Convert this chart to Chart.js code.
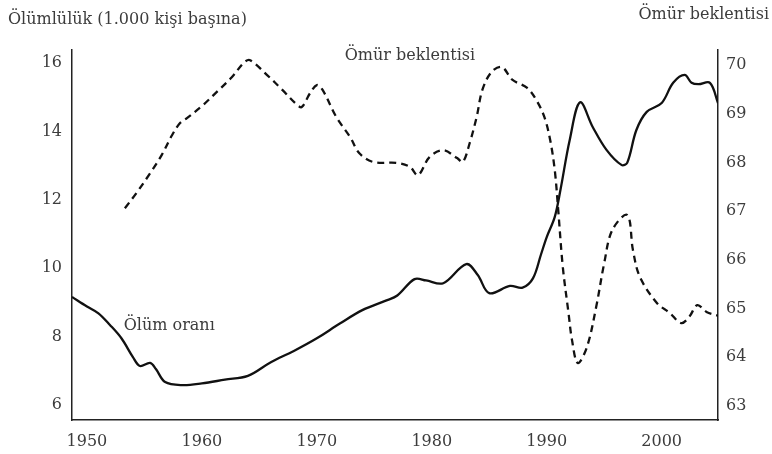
<!DOCTYPE html>
<html>
<head>
<meta charset="utf-8">
<script src="https://cdn.jsdelivr.net/npm/chart.js@4"></script>
<style>
  html, body { margin: 0; padding: 0; background: #fff; }
  #wrap { width: 772px; height: 454px; position: relative; }
</style>
</head>
<body>
<div id="wrap"><canvas id="chart" width="772" height="454"></canvas></div>
<script>
// Ölüm oranı (1.000 kişi başına) – sol eksen
const deathYears = [1948.7, 1950, 1951, 1952, 1953, 1954, 1954.6, 1955.5, 1956, 1956.8, 1958.3, 1960, 1962, 1964, 1966, 1968, 1970, 1972, 1974, 1976, 1977, 1978.5, 1979.5, 1981, 1983, 1984, 1985, 1986.8, 1987.9, 1988.8, 1989.5, 1990, 1990.7, 1991.2, 1992, 1992.9, 1994, 1995.2, 1996.5, 1997, 1997.8, 1998.7, 2000, 2001, 2002, 2002.6, 2003.2, 2004.2, 2004.9];
const deathRate  = [9.16, 8.88, 8.68, 8.34, 7.95, 7.40, 7.14, 7.23, 7.05, 6.67, 6.58, 6.63, 6.74, 6.85, 7.25, 7.58, 7.95, 8.38, 8.78, 9.05, 9.20, 9.68, 9.64, 9.56, 10.12, 9.80, 9.27, 9.48, 9.43, 9.70, 10.40, 10.91, 11.50, 12.30, 13.75, 14.85, 14.13, 13.46, 13.02, 13.08, 14.04, 14.57, 14.83, 15.42, 15.65, 15.42, 15.38, 15.42, 14.83];

// Ömür beklentisi – sağ eksen
const lifeYears = [1953.3, 1954.3, 1955.5, 1956.5, 1957.4, 1958.1, 1958.7, 1960.1, 1961.3, 1962.6, 1963.7, 1964.2, 1965.7, 1967.0, 1968.3, 1968.7, 1969.4, 1970.0, 1970.5, 1971.7, 1972.9, 1973.7, 1974.9, 1977.0, 1978.1, 1978.8, 1979.8, 1981.0, 1982.2, 1982.7, 1983.3, 1983.9, 1984.4, 1985.2, 1986.1, 1987.0, 1988.3, 1989.1, 1989.8, 1990.3, 1990.7, 1991.0, 1991.4, 1991.9, 1992.2, 1992.7, 1993.5, 1994.3, 1995.0, 1995.7, 1997.0, 1997.5, 1998.1, 1999.6, 2000.7, 2001.7, 2002.4, 2003.1, 2003.9, 2004.9];
const lifeExp   = [67.06, 67.37, 67.78, 68.15, 68.56, 68.81, 68.91, 69.18, 69.45, 69.75, 70.06, 70.10, 69.79, 69.49, 69.18, 69.14, 69.42, 69.59, 69.49, 68.93, 68.52, 68.19, 68.01, 67.99, 67.91, 67.74, 68.11, 68.25, 68.09, 68.01, 68.40, 68.93, 69.49, 69.86, 69.96, 69.70, 69.53, 69.28, 68.93, 68.46, 67.84, 67.02, 65.85, 64.90, 64.35, 63.88, 64.21, 65.03, 65.93, 66.61, 66.92, 66.20, 65.65, 65.11, 64.91, 64.70, 64.83, 65.07, 64.93, 64.85];

const xTicks     = [1950, 1960, 1970, 1980, 1990, 2000];
const leftTicks  = [6, 8, 10, 12, 14, 16];
const rightTicks = [63, 64, 65, 66, 67, 68, 69, 70];

const FONT = 'DejaVu Serif';
const TXT  = '#3c3c3c';

const toPts = (xs, ys) => xs.map((x, i) => ({ x, y: ys[i] }));

// metin etiketleri
const labels = {
  id: 'labels',
  afterDraw(chart) {
    const { ctx, scales } = chart;
    ctx.save();
    ctx.fillStyle = TXT;
    ctx.font = `16px "${FONT}"`;
    ctx.textBaseline = 'middle';
    ctx.textAlign = 'left';
    ctx.fillText('Ölümlülük (1.000 kişi başına)', 8, 20);
    ctx.textAlign = 'right';
    ctx.fillText('Ömür beklentisi', 769, 15);
    ctx.textAlign = 'center';
    ctx.fillText('Ömür beklentisi', scales.x.getPixelForValue(1978.1), 56);
    ctx.textAlign = 'left';
    ctx.fillText('Ölüm oranı', scales.x.getPixelForValue(1953.2), scales.y.getPixelForValue(8.3));
    ctx.restore();
  }
};

new Chart(document.getElementById('chart'), {
  type: 'line',
  data: {
    datasets: [
      {
        label: 'Ölüm oranı',
        data: toPts(deathYears, deathRate),
        yAxisID: 'y',
        borderColor: '#111',
        borderWidth: 2.3,
        pointRadius: 0,
        tension: 0.35,
        fill: false,
      },
      {
        label: 'Ömür beklentisi',
        data: toPts(lifeYears, lifeExp),
        yAxisID: 'y1',
        borderColor: '#111',
        borderWidth: 2.3,
        borderDash: [7, 5],
        pointRadius: 0,
        tension: 0.35,
        fill: false,
      }
    ]
  },
  options: {
    responsive: false,
    animation: false,
    layout: { padding: { top: 50, left: 0, right: 0, bottom: 0 } },
    plugins: { legend: { display: false }, tooltip: { enabled: false } },
    scales: {
      x: {
        type: 'linear',
        min: 1948.7,
        max: 2004.9,
        afterBuildTicks: s => { s.ticks = xTicks.map(v => ({ value: v })); },
        afterFit: s => { s.height = 34; },
        grid: { display: false, drawTicks: false },
        border: { display: true, color: '#222', width: 1.5 },
        ticks: { color: TXT, font: { family: FONT, size: 16 }, padding: 12, callback: v => String(v) }
      },
      y: {
        position: 'left',
        min: 5.56,
        max: 16.38,
        afterBuildTicks: s => { s.ticks = leftTicks.map(v => ({ value: v })); },
        afterFit: s => { s.width = 72; },
        grid: { display: false, drawTicks: false },
        border: { display: true, color: '#222', width: 1.5 },
        ticks: { color: TXT, font: { family: FONT, size: 16 }, padding: 10 }
      },
      y1: {
        position: 'right',
        min: 62.71,
        max: 70.31,
        afterBuildTicks: s => { s.ticks = rightTicks.map(v => ({ value: v })); },
        afterFit: s => { s.width = 54; },
        grid: { display: false, drawTicks: false },
        border: { display: true, color: '#222', width: 1.5 },
        ticks: { color: TXT, font: { family: FONT, size: 16 }, padding: 8 }
      }
    }
  },
  plugins: [labels]
});
</script>
</body>
</html>
